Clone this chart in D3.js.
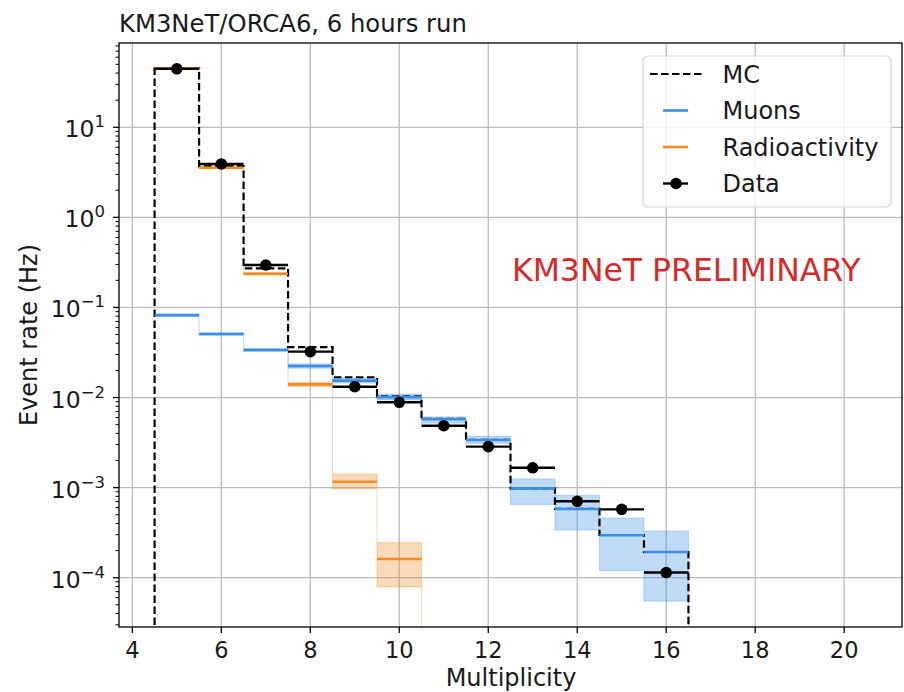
<!DOCTYPE html>
<html>
<head>
<meta charset="utf-8">
<script src="https://cdn.jsdelivr.net/npm/d3@7"></script>
<style>
  html, body { margin: 0; padding: 0; background: #fff; }
  svg { display: block; font-family: "DejaVu Sans", sans-serif; }
</style>
</head>
<body>
<svg id="chart" width="904" height="692"></svg>
<script>
// ---------------- data ----------------
const bins = [5, 6, 7, 8, 9, 10, 11, 12, 13, 14, 15, 16];
const mcRate    = [45.2, 3.7, 0.272, 0.0362, 0.0168, 0.0103, 0.0058, 0.0034, 0.00098, 0.00058, 0.000298, 0.000193];
const muonRate  = [0.082, 0.0507, 0.0337, 0.0224, 0.0154, 0.0101, 0.00573, 0.00338, 0.00098, 0.00058, 0.000296, 0.000193];
const muonLow   = [0.0800, 0.0492, 0.0326, 0.0212, 0.0145, 0.0094, 0.0052, 0.0031, 0.00065, 0.00034, 0.00012, 0.000055];
const muonHigh  = [0.0850, 0.0522, 0.0350, 0.0236, 0.0165, 0.0109, 0.0061, 0.0037, 0.00125, 0.00082, 0.00046, 0.00033];
const radioRate = [45.1, 3.55, 0.237, 0.0140, 0.00116, 0.000161, 0, 0, 0, 0, 0, 0];
const radioLow  = [44.6, 3.47, 0.229, 0.0133, 0.00097, 0.000079, 0, 0, 0, 0, 0, 0];
const radioHigh = [45.6, 3.63, 0.246, 0.0148, 0.00141, 0.000245, 0, 0, 0, 0, 0, 0];
const dataRate  = [44.6, 3.92, 0.296, 0.0323, 0.0132, 0.00886, 0.00486, 0.00285, 0.00166, 0.000705, 0.000574, 0.000114];
const xTicks = [4, 6, 8, 10, 12, 14, 16, 18, 20];
const yTickExps = [-4, -3, -2, -1, 0, 1];
const legendLabels = ["MC", "Muons", "Radioactivity", "Data"];
const titleText = "KM3NeT/ORCA6, 6 hours run";
const watermark = "KM3NeT PRELIMINARY";

// ---------------- layout ----------------
const m = { left: 119, right: 902, top: 43, bottom: 627 };
const binHalf = 0.5;
const xDomain = [3.7, 21.3];
const yDomain = [2.836e-5, 86.26];

const muonColor = "#3a8ee6";
const radioColor = "#ef8c22";
const gridColor = "#bcbcbc";
const textColor = "#1a1a1a";

const svg = d3.select("#chart");
const x = d3.scaleLinear().domain(xDomain).range([m.left, m.right]);
const y = d3.scaleLog().domain(yDomain).range([m.bottom, m.top]);
const yv = v => v > 0 ? y(v) : m.bottom + 20;

svg.append("defs").append("clipPath").attr("id", "clip")
  .append("rect").attr("x", m.left).attr("y", m.top)
  .attr("width", m.right - m.left).attr("height", m.bottom - m.top);

// grid
const grid = svg.append("g");
xTicks.forEach(t => {
  grid.append("line").attr("x1", x(t)).attr("x2", x(t))
    .attr("y1", m.top).attr("y2", m.bottom)
    .attr("stroke", gridColor).attr("stroke-width", 1.3);
});
yTickExps.forEach(e => {
  grid.append("line").attr("x1", m.left).attr("x2", m.right)
    .attr("y1", y(Math.pow(10, e))).attr("y2", y(Math.pow(10, e)))
    .attr("stroke", gridColor).attr("stroke-width", 1.3);
});

const plot = svg.append("g").attr("clip-path", "url(#clip)");

// step helpers
function stepPoints(vals) {
  const pts = [];
  bins.forEach((b, i) => {
    pts.push([b - binHalf, vals[i]]);
    pts.push([b + binHalf, vals[i]]);
  });
  return pts;
}
function stepBand(lo, hi) {
  const pts = [];
  bins.forEach((b, i) => {
    pts.push({ x: b - binHalf, lo: lo[i], hi: hi[i] });
    pts.push({ x: b + binHalf, lo: lo[i], hi: hi[i] });
  });
  pts.push({ x: bins[bins.length - 1] + binHalf, lo: 0, hi: 0 });
  return pts;
}
const area = d3.area().x(d => x(d.x)).y0(d => yv(d.lo)).y1(d => yv(d.hi));

// bands
plot.append("path").datum(stepBand(radioLow, radioHigh))
  .attr("d", area).attr("fill", radioColor).attr("fill-opacity", 0.32)
  .attr("stroke", radioColor).attr("stroke-opacity", 0.3).attr("stroke-width", 1.2);
plot.append("path").datum(stepBand(muonLow, muonHigh))
  .attr("d", area).attr("fill", muonColor).attr("fill-opacity", 0.32)
  .attr("stroke", muonColor).attr("stroke-opacity", 0.3).attr("stroke-width", 1.2);

// MC dashed step
const mcPts = [[bins[0] - binHalf, 0]].concat(stepPoints(mcRate)).concat([[bins[bins.length - 1] + binHalf, 0]]);
plot.append("path").datum(mcPts)
  .attr("d", d3.line().x(d => x(d[0])).y(d => yv(d[1])))
  .attr("fill", "none").attr("stroke", "#000").attr("stroke-width", 2.2)
  .attr("stroke-dasharray", "7.5,3.5");

// horizontal component lines
function hlines(vals, color) {
  plot.append("g").selectAll("line").data(bins.map((b, i) => [b, vals[i]]).filter(d => d[1] > 0))
    .join("line")
    .attr("x1", d => x(d[0] - binHalf)).attr("x2", d => x(d[0] + binHalf))
    .attr("y1", d => y(d[1])).attr("y2", d => y(d[1]))
    .attr("stroke", color).attr("stroke-width", 2.6);
}
hlines(radioRate, radioColor);
hlines(muonRate, muonColor);

// data
const dataG = plot.append("g");
dataG.selectAll("line").data(bins.map((b, i) => [b, dataRate[i]])).join("line")
  .attr("x1", d => x(d[0] - binHalf)).attr("x2", d => x(d[0] + binHalf))
  .attr("y1", d => y(d[1])).attr("y2", d => y(d[1]))
  .attr("stroke", "#000").attr("stroke-width", 2.4);
dataG.selectAll("circle").data(bins.map((b, i) => [b, dataRate[i]])).join("circle")
  .attr("cx", d => x(d[0])).attr("cy", d => y(d[1])).attr("r", 5.8).attr("fill", "#000");

// axes frame
svg.append("rect").attr("x", m.left).attr("y", m.top)
  .attr("width", m.right - m.left).attr("height", m.bottom - m.top)
  .attr("fill", "none").attr("stroke", "#000").attr("stroke-width", 1.3);

// x ticks
const axG = svg.append("g").attr("fill", textColor);
xTicks.forEach(t => {
  axG.append("line").attr("x1", x(t)).attr("x2", x(t)).attr("y1", m.bottom).attr("y2", m.bottom + 6)
    .attr("stroke", "#000").attr("stroke-width", 1.3);
  axG.append("text").attr("x", x(t)).attr("y", m.bottom + 31)
    .attr("text-anchor", "middle").attr("font-size", 22.5).text(t);
});
// y ticks
yTickExps.forEach(e => {
  const yy = y(Math.pow(10, e));
  axG.append("line").attr("x1", m.left - 6).attr("x2", m.left).attr("y1", yy).attr("y2", yy)
    .attr("stroke", "#000").attr("stroke-width", 1.3);
  const t = axG.append("text").attr("x", m.left - 14).attr("y", yy + 10)
    .attr("text-anchor", "end").attr("font-size", 23.5);
  t.append("tspan").text("10");
  t.append("tspan").attr("font-size", 16.5).attr("dy", -10).text(e < 0 ? "\u2212" + (-e) : String(e));
});
// minor y ticks
for (let e = -5; e <= 1; e++) {
  for (let k = 2; k <= 9; k++) {
    const v = k * Math.pow(10, e);
    if (v < yDomain[0] || v > yDomain[1]) continue;
    axG.append("line").attr("x1", m.left - 3.5).attr("x2", m.left).attr("y1", y(v)).attr("y2", y(v))
      .attr("stroke", "#000").attr("stroke-width", 1);
  }
}

// labels
svg.append("text").attr("x", 511).attr("y", 686)
  .attr("text-anchor", "middle").attr("font-size", 24).attr("fill", textColor).text("Multiplicity");
svg.append("text").attr("transform", `translate(37,${(m.top + m.bottom) / 2}) rotate(-90)`)
  .attr("text-anchor", "middle").attr("font-size", 24).attr("fill", textColor).text("Event rate (Hz)");
svg.append("text").attr("x", m.left).attr("y", 32)
  .attr("font-size", 24.3).attr("fill", textColor).text(titleText);

// watermark
svg.append("text").attr("x", 512).attr("y", 281)
  .attr("font-size", 31.5).attr("fill", "#d42a2a").text(watermark);

// legend
const lg = svg.append("g");
lg.append("rect").attr("x", 643).attr("y", 56).attr("width", 248).attr("height", 151)
  .attr("rx", 5).attr("fill", "#fff").attr("fill-opacity", 0.8)
  .attr("stroke", "#d6d6d6").attr("stroke-width", 1.2);
const rowY = [74, 110.5, 147, 183.5];
legendLabels.forEach((lab, i) => {
  lg.append("text").attr("x", 722.5).attr("y", rowY[i] + 8.8)
    .attr("font-size", 24).attr("fill", textColor).text(lab);
});
lg.append("line").attr("x1", 650).attr("x2", 702).attr("y1", rowY[0]).attr("y2", rowY[0])
  .attr("stroke", "#000").attr("stroke-width", 2.2).attr("stroke-dasharray", "7.5,3.5");
lg.append("line").attr("x1", 663).attr("x2", 688).attr("y1", rowY[1]).attr("y2", rowY[1])
  .attr("stroke", muonColor).attr("stroke-width", 2.6);
lg.append("line").attr("x1", 663).attr("x2", 688).attr("y1", rowY[2]).attr("y2", rowY[2])
  .attr("stroke", radioColor).attr("stroke-width", 2.6);
lg.append("line").attr("x1", 663).attr("x2", 688).attr("y1", rowY[3]).attr("y2", rowY[3])
  .attr("stroke", "#000").attr("stroke-width", 2.4);
lg.append("circle").attr("cx", 676).attr("cy", rowY[3]).attr("r", 5.8).attr("fill", "#000");
</script>
</body>
</html>
